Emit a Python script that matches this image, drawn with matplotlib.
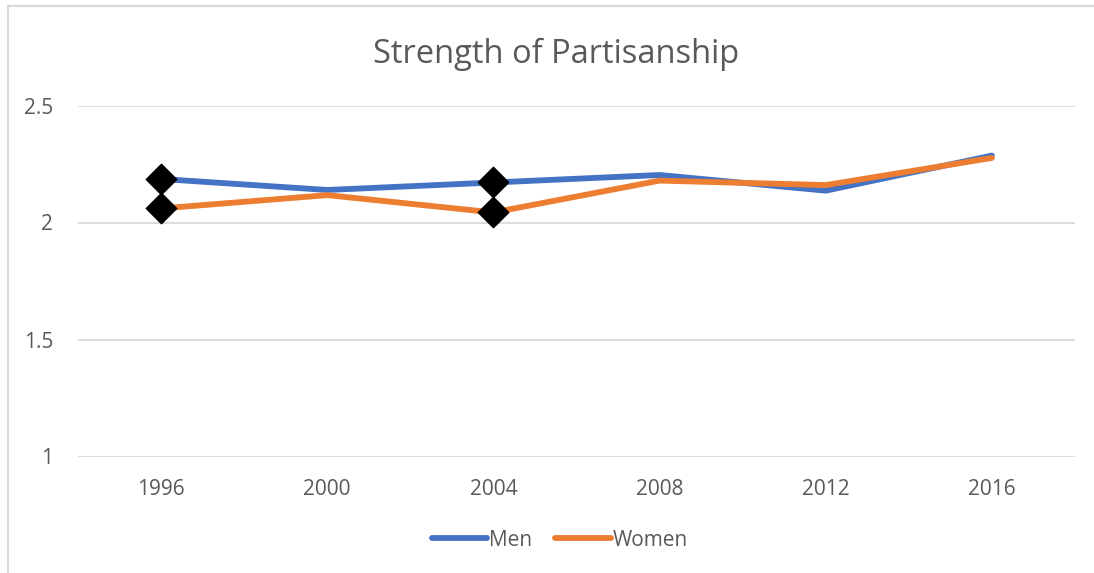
import matplotlib
matplotlib.use('Agg')
import matplotlib.pyplot as plt
from matplotlib.patches import Rectangle
from matplotlib.lines import Line2D

plt.rcParams['font.family'] = ['Open Sans', 'DejaVu Sans']

years = ['1996', '2000', '2004', '2008', '2012', '2016']
men = [2.186, 2.139, 2.171, 2.203, 2.136, 2.286]
women = [2.060, 2.117, 2.043, 2.179, 2.160, 2.276]
# points highlighted with black diamonds
marked = [0, 2]

blue = '#4472C4'
orange = '#ED7D31'
grey = '#595959'

W, H = 1094, 573
fig = plt.figure(figsize=(W / 100, H / 100), dpi=100)
ax = fig.add_axes([78 / W, 1 - 456.5 / H, (1075 - 78) / W, (456.5 - 105.5) / H])

x = list(range(len(years)))
ax.plot(x, men, color=blue, lw=4.2, solid_capstyle='round', solid_joinstyle='round', zorder=3)
ax.plot(x, women, color=orange, lw=4.2, solid_capstyle='round', solid_joinstyle='round', zorder=3)
ax.scatter([x[i] for i in marked], [men[i] for i in marked], marker='D', s=240, color='black', zorder=4)
ax.scatter([x[i] for i in marked], [women[i] for i in marked], marker='D', s=240, color='black', zorder=4)

ax.set_xlim(-0.5, len(years) - 0.5)
ax.set_ylim(1, 2.5)
ax.set_yticks([1, 1.5, 2, 2.5])
ax.set_yticklabels(['1', '1.5', '2', '2.5'])
ax.set_xticks(x)
ax.set_xticklabels(years)
ax.tick_params(length=0, labelsize=15, colors=grey)
ax.tick_params(axis='y', pad=18)
ax.tick_params(axis='x', pad=16)
ax.grid(axis='y', color='#D9D9D9', lw=1.3)
ax.set_axisbelow(True)
for s in ax.spines.values():
    s.set_visible(False)

fig.text(556 / W, 1 - 63 / H, 'Strength of Partisanship', ha='center', va='baseline',
         fontsize=23.5, color=grey)

handles = [Line2D([], [], color=blue, lw=4.2, solid_capstyle='round'),
           Line2D([], [], color=orange, lw=4.2, solid_capstyle='round')]
fig.legend(handles, ['Men', 'Women'], loc='center', bbox_to_anchor=(560 / W, 1 - 540 / H),
           ncol=2, frameon=False, fontsize=15, labelcolor=grey, handlelength=2.65,
           handletextpad=0.1, columnspacing=1.1)

# chart border (top and left edges visible)
fig.patches.append(Rectangle((8 / W, -0.1), 1.2, 1.1 - 6.5 / H, transform=fig.transFigure,
                             fill=False, ec='#D9D9D9', lw=1.5))

fig.savefig('out.png', dpi=100)
